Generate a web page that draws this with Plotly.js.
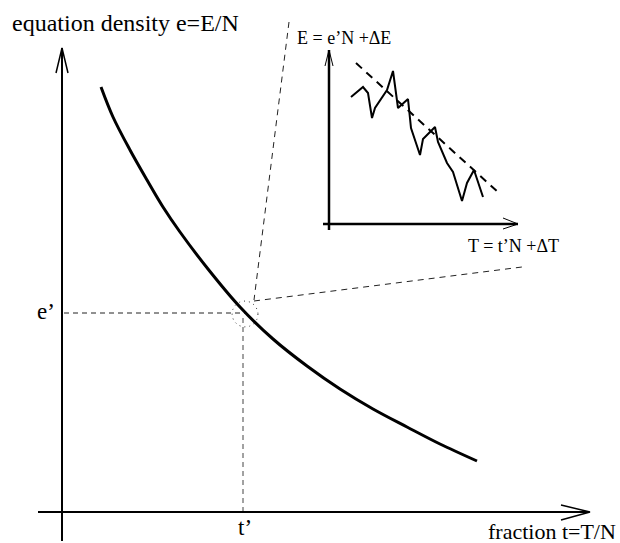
<!DOCTYPE html>
<html>
<head>
<meta charset="utf-8">
<script src="https://cdn.plot.ly/plotly-3.0.1.min.js"></script>
<style>html,body{margin:0;padding:0;background:#fff;}#chart{width:620px;height:543px;}</style>
</head>
<body>
<div id="chart"></div>
<script>
// Schematic drawn in a pixel-like coordinate frame (x right, y down)
// Main axes
const mainYAxisX = [62, 62];
const mainYAxisY = [541, 48];
const mainYArrowX = [56, 62, 68];
const mainYArrowY = [73, 48, 73];
const mainXAxisX = [38, 589];
const mainXAxisY = [512, 512];
const mainXArrowX = [561, 590, 561];
const mainXArrowY = [505, 512, 520];

// Main curve e(t)
const curveT = [101, 113, 130, 147, 163, 180, 208, 240, 273, 307, 340, 373, 407, 440, 477];
const curveE = [87, 117, 150, 180, 207, 232, 269, 307, 339, 366, 389, 409, 427, 444, 461];

// Guide lines for e' and t'
const eGuideX = [64, 245];
const eGuideY = [313, 313];
const tGuideX = [243, 243];
const tGuideY = [318, 512];

// Zoom circle
const circleCenter = [245, 314];
const circleRadius = [13];

// Connector lines to inset
const conn1X = [289, 254];
const conn1Y = [22, 300];
const conn2X = [254, 522];
const conn2Y = [301, 267];

// Inset axes
const insetYAxisX = [329, 329];
const insetYAxisY = [230, 50];
const insetYArrowX = [325, 329, 333];
const insetYArrowY = [66, 50, 66];
const insetXAxisX = [323, 518];
const insetXAxisY = [224, 224];
const insetXArrowX = [503, 518, 503];
const insetXArrowY = [218, 224, 229];

// Inset fluctuating E(T)
const insetT = [351, 363, 368, 372, 375, 387, 393, 398, 408, 411, 420, 423, 435, 438, 447, 453, 462, 467, 474, 483];
const insetE = [97, 87, 93, 118, 108, 90, 71, 108, 99, 128, 155, 139, 127, 142, 163, 172, 201, 183, 170, 197];
// Inset linear trend
const trendT = [356, 499];
const trendE = [63, 193];

// Labels
const labelTexts = ["equation density e=E/N", "fraction t=T/N", "t’", "e’", "E = e’N +ΔE", "T = t’N +ΔT"];
const labelX = [10, 618, 245, 46, 295, 466];
const labelY = [23, 531, 527, 311, 38, 246];
const labelAnchor = ["left", "right", "center", "center", "left", "left"];
const labelSize = [24, 22, 23, 23, 18, 18];

const circX = [], circY = [];
for (let i = 0; i <= 72; i++) {
  const a = 2 * Math.PI * i / 72;
  circX.push(circleCenter[0] + circleRadius[0] * Math.cos(a));
  circY.push(circleCenter[1] + circleRadius[0] * Math.sin(a));
}

function ln(x, y, w, dash, color) {
  return {type: 'scatter', mode: 'lines', x: x, y: y, hoverinfo: 'skip',
    line: {color: color || '#000', width: w, dash: dash || 'solid'}, showlegend: false};
}

const traces = [
  ln(eGuideX, eGuideY, 1, '5px,4px', '#222'),
  ln(tGuideX, tGuideY, 1, '5px,4px', '#444'),
  ln(conn1X, conn1Y, 1, '6px,5px', '#222'),
  ln(conn2X, conn2Y, 1, '6px,5px', '#222'),
  ln(circX, circY, 1, '1px,4px', '#333'),
  ln(mainYAxisX, mainYAxisY, 2),
  ln(mainYArrowX, mainYArrowY, 1.5),
  ln(mainXAxisX, mainXAxisY, 2),
  ln(mainXArrowX, mainXArrowY, 1.5),
  Object.assign(ln(curveT, curveE, 3), {line: {color: '#000', width: 3, shape: 'spline', smoothing: 1}}),
  ln(insetYAxisX, insetYAxisY, 2.5),
  ln(insetYArrowX, insetYArrowY, 1),
  ln(insetXAxisX, insetXAxisY, 2.5),
  ln(insetXArrowX, insetXArrowY, 1),
  ln(trendT, trendE, 2, '8px,6px'),
  ln(insetT, insetE, 2)
];

const annotations = labelTexts.map((t, i) => ({
  text: t, x: labelX[i], y: labelY[i], xref: 'x', yref: 'y',
  xanchor: labelAnchor[i], yanchor: 'middle', showarrow: false,
  font: {family: 'Liberation Serif, Times New Roman, serif', size: labelSize[i], color: '#000'}
}));

const layout = {
  width: 620, height: 543,
  margin: {l: 0, r: 0, t: 0, b: 0, pad: 0},
  paper_bgcolor: '#fff', plot_bgcolor: '#fff',
  xaxis: {range: [0, 620], visible: false, fixedrange: true},
  yaxis: {range: [543, 0], visible: false, fixedrange: true},
  annotations: annotations,
  showlegend: false
};

Plotly.newPlot('chart', traces, layout, {staticPlot: true, displayModeBar: false});
</script>
</body>
</html>
